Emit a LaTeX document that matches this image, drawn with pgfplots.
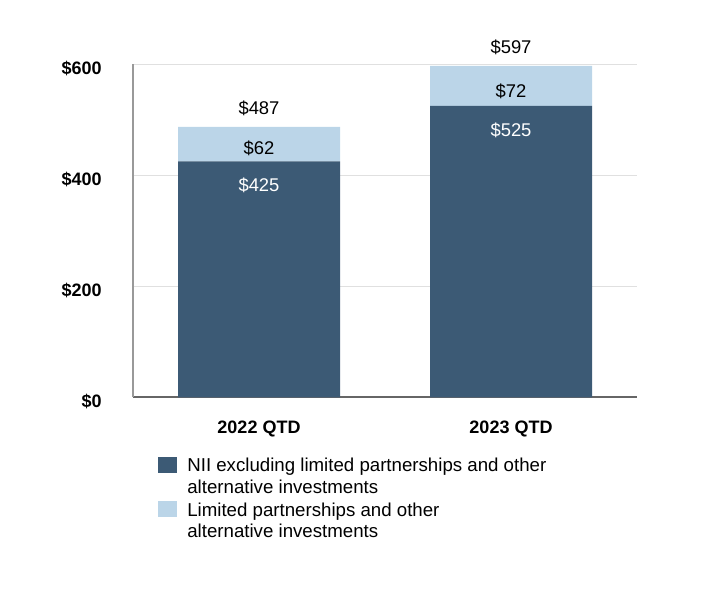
\documentclass[border=0pt]{standalone}
\usepackage{pgfplots}
\pgfplotsset{compat=1.18}
\usepackage{fontspec}
\setmainfont{Liberation Sans}
\definecolor{darkbar}{RGB}{60,90,117}
\definecolor{lightbar}{RGB}{187,213,232}
\definecolor{gridc}{RGB}{224,224,224}
\begin{document}
\begin{tikzpicture}
\useasboundingbox (0,0) rectangle (526.5pt,450pt);
\begin{axis}[
  at={(99.75pt,151.9pt)}, anchor=south west,
  scale only axis, width=378pt, height=250pt,
  ymin=0, ymax=600, xmin=-0.5, xmax=1.5,
  ybar stacked, bar width=121.5pt,
  xtick={0,1}, xticklabels={2022 QTD,2023 QTD},
  ytick={0,200,400,600},
  yticklabels={\$0,\$200,\$400,\$600},
  major tick length=0pt,
  ymajorgrids, grid style={gridc, line width=0.8pt},
  axis x line*=bottom, axis y line*=left,
  x axis line style={draw=black!60, line width=1.5pt},
  y axis line style={draw=black!40, line width=0.8pt},
  axis line style={-},
  tick label style={font=\fontsize{13.5}{16}\selectfont\bfseries},
  yticklabel style={anchor=east, xshift=-20pt, yshift=-3pt},
  xticklabel style={anchor=north, yshift=-14pt},
  clip=false,
  legend style={at={(0.0496,-0.178)}, anchor=north west, draw=none, fill=none,
    inner sep=0pt, outer sep=0pt,
    font=\fontsize{14}{16}\selectfont,
    nodes={inner sep=0pt, anchor=base west, text height=10pt, text depth=3pt},
    /tikz/row sep=3.2pt, /tikz/column sep=8pt},
  legend cell align=left,
  legend image code/.code={\fill[#1] (0pt,-1pt) rectangle (14pt,11pt);},
]
\addplot[fill=darkbar, draw=none] coordinates {(0,425) (1,525)};
\addlegendentry{NII excluding limited partnerships and other}
\addlegendimage{empty legend}
\addlegendentry{alternative investments}
\addplot[fill=lightbar, draw=none] coordinates {(0,62) (1,72)};
\addlegendentry{Limited partnerships and other}
\addlegendimage{empty legend}
\addlegendentry{alternative investments}
\coordinate (t1) at (axis cs:0,510);
\coordinate (t2) at (axis cs:1,620);
\coordinate (l1) at (axis cs:0,438);
\coordinate (l2) at (axis cs:1,540);
\coordinate (d1) at (axis cs:0,370);
\coordinate (d2) at (axis cs:1,470);
\end{axis}
\begin{scope}[every node/.style={anchor=base, font=\fontsize{13.8}{16}\selectfont}]
\node at (t1) {\$487};
\node at (t2) {\$597};
\node at (l1) {\$62};
\node at (l2) {\$72};
\node[text=white] at (d1) {\$425};
\node[text=white] at (d2) {\$525};
\end{scope}
\end{tikzpicture}
\end{document}
